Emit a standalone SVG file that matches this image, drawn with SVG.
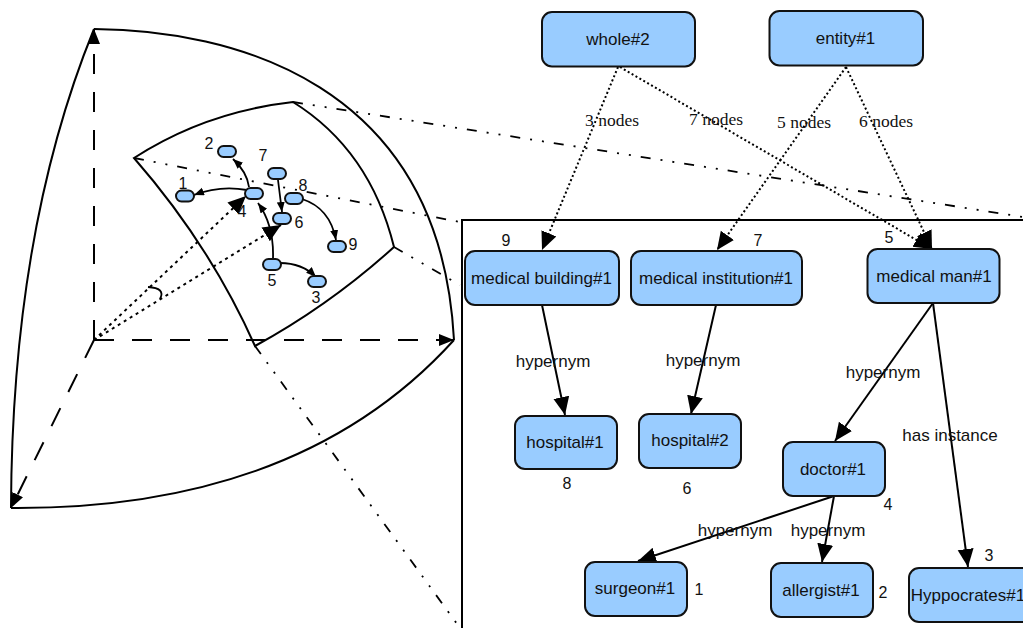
<svg xmlns="http://www.w3.org/2000/svg" width="1023" height="628" viewBox="0 0 1023 628">
<style>
text{font-family:"Liberation Sans",Arial,sans-serif;fill:#111;text-anchor:middle}
.n rect{fill:#99ccff;stroke:#111;stroke-width:2}
.n text{font-size:17px}
.s rect{fill:#99ccff;stroke:#111;stroke-width:2}
.num{font-size:16px}
.lab{font-size:17px}
.ser{font-family:"Liberation Serif","Times New Roman",serif;font-size:17.500px}
.sec{fill:none;stroke:#000;stroke-width:2}
.axis{fill:none;stroke:#000;stroke-width:2;stroke-dasharray:20 18}
.dd{fill:none;stroke:#000;stroke-width:1.800;stroke-dasharray:10 10 2 10 2 10}
.dot{fill:none;stroke:#000;stroke-width:2;stroke-dasharray:2 2.500}
.dotb{fill:none;stroke:#000;stroke-width:2;stroke-dasharray:3 4}
.sol{fill:none;stroke:#000;stroke-width:2}
.thin{fill:none;stroke:#000;stroke-width:1.800}
</style>
<defs>
<marker id="big" markerUnits="userSpaceOnUse" markerWidth="20" markerHeight="20" refX="18" refY="9" orient="auto"><path d="M0,1 L18,9 L0,17 Z" fill="#000"/></marker>
<marker id="mid" markerUnits="userSpaceOnUse" markerWidth="16" markerHeight="16" refX="15" refY="6" orient="auto"><path d="M0,0 L15,6 L0,12 Z" fill="#000"/></marker>
<marker id="small" markerUnits="userSpaceOnUse" markerWidth="12" markerHeight="12" refX="10" refY="4" orient="auto"><path d="M0,0 L10,4 L0,8 Z" fill="#000"/></marker>
</defs>
<g id="sphere">
<path class="sec" d="M94,29 C230,30 440,80 454,340"/>
<path class="sec" d="M94,29 Q12,230 11,508"/>
<path class="sec" d="M11,508 Q300,510 454,340"/>
<path class="sec" d="M134,158 Q205,112 293,102 Q370,150 394,247 Q330,305 255,346 Q210,245 134,158 Z"/>
<path class="dd" d="M293,102 L1023,217"/>
<path class="dd" d="M134,158 L460,222"/>
<path class="dd" d="M394,247 L460,285"/>
<path class="dd" d="M255,346 L460,628"/>
<path class="axis" d="M94,340 L94,29" marker-end="url(#mid)"/>
<path class="axis" d="M94,340 L454,340" marker-end="url(#mid)"/>
<path class="axis" d="M94,340 L11,508" marker-end="url(#mid)"/>
<path class="thin" d="M148,287 Q166,288 160,299"/>
</g>
<g id="inner-edges">
<path class="thin" d="M249,187 Q247,172 233,159" marker-end="url(#small)"/>
<path class="thin" d="M247,190 Q220,185 194,195" marker-end="url(#small)"/>
<path class="thin" d="M278,180 L282,212" marker-end="url(#small)"/>
<path class="thin" d="M273,258 Q274,225 258,203" marker-end="url(#small)"/>
<path class="thin" d="M280,263 Q302,263 316,277" marker-end="url(#small)"/>
<path class="thin" d="M302,199 Q330,208 336,240" marker-end="url(#small)"/>
</g>
<g id="inner-nodes" class="s">
<g id="p1"><rect x="176" y="190.500" width="18" height="11" rx="5.500"/></g>
<g id="p2"><rect x="218" y="146" width="18" height="11" rx="5.500"/></g>
<g id="p3"><rect x="308" y="276" width="18" height="11" rx="5.500"/></g>
<g id="p4"><rect x="245" y="188" width="18" height="11" rx="5.500"/></g>
<g id="p5"><rect x="263" y="259" width="18" height="11" rx="5.500"/></g>
<g id="p6"><rect x="273" y="213" width="18" height="11" rx="5.500"/></g>
<g id="p7"><rect x="268" y="168" width="18" height="11" rx="5.500"/></g>
<g id="p8"><rect x="285" y="193" width="18" height="11" rx="5.500"/></g>
<g id="p9"><rect x="328" y="241" width="18" height="11" rx="5.500"/></g>
</g>
<g id="view-rays">
<path class="dotb" d="M94,340 L246,196" marker-end="url(#big)"/>
<path class="dotb" d="M94,340 L281,225" marker-end="url(#big)"/>
</g>
<g id="inner-labels" class="num">
<text x="183" y="189">1</text><text x="209" y="149">2</text><text x="316" y="303">3</text>
<text x="242" y="217">4</text><text x="272" y="286">5</text><text x="299" y="228">6</text>
<text x="263" y="161">7</text><text x="303" y="191">8</text><text x="353" y="250">9</text>
</g>
<g id="connectors">
<path class="sol" d="M462,628 L462,220 L1023,220"/>
<path class="dot" d="M618,67 L542,250" marker-end="url(#big)"/>
<path class="dot" d="M620,67 L932,249" marker-end="url(#big)"/>
<path class="dot" d="M846,67 L717,250" marker-end="url(#big)"/>
<path class="dot" d="M846,67 L932,249" marker-end="url(#big)"/>
<path class="sol" d="M542,305 L565,415" marker-end="url(#big)"/>
<path class="sol" d="M716,305 L691,414" marker-end="url(#big)"/>
<path class="sol" d="M933,303 L835,441" marker-end="url(#big)"/>
<path class="sol" d="M933,303 L968,567" marker-end="url(#big)"/>
<path class="sol" d="M834,496 L638,561" marker-end="url(#big)"/>
<path class="sol" d="M834,496 L822,562" marker-end="url(#big)"/>
</g>
<g id="whole" class="n"><rect x="542" y="12" width="153" height="54.500" rx="10"/><text x="618" y="45">whole#2</text></g>
<g id="entity" class="n"><rect x="769.500" y="11" width="153.500" height="54.500" rx="10"/><text x="845.500" y="44">entity#1</text></g>
<g id="medical-building" class="n"><rect x="465" y="251" width="154" height="54" rx="10"/><text x="541.500" y="283.500">medical building#1</text></g>
<g id="medical-institution" class="n"><rect x="631" y="251" width="171" height="54" rx="10"/><text x="716" y="283.500">medical institution#1</text></g>
<g id="medical-man" class="n"><rect x="867.500" y="249" width="132" height="54" rx="10"/><text x="934" y="281.500">medical man#1</text></g>
<g id="hospital1" class="n"><rect x="515" y="416" width="102" height="53" rx="10"/><text x="565" y="448">hospital#1</text></g>
<g id="hospital2" class="n"><rect x="639" y="414" width="102" height="54" rx="10"/><text x="690" y="446">hospital#2</text></g>
<g id="doctor" class="n"><rect x="783" y="442" width="102" height="54" rx="10"/><text x="833" y="475">doctor#1</text></g>
<g id="surgeon" class="n"><rect x="585" y="562" width="102" height="54" rx="10"/><text x="635" y="594">surgeon#1</text></g>
<g id="allergist" class="n"><rect x="771" y="563" width="102" height="54" rx="10"/><text x="821" y="596">allergist#1</text></g>
<g id="hyppocrates" class="n"><rect x="909" y="568" width="130" height="54" rx="10"/><text x="968" y="601">Hyppocrates#1</text></g>
<g id="edge-labels">
<text class="ser" x="612" y="126">3 nodes</text><text class="ser" x="716" y="125">7 nodes</text>
<text class="ser" x="804" y="128">5 nodes</text><text class="ser" x="886" y="127">6 nodes</text>
<text class="lab" x="553" y="367">hypernym</text><text class="lab" x="703" y="366">hypernym</text>
<text class="lab" x="883" y="378">hypernym</text><text class="lab" x="950" y="441">has instance</text>
<text class="lab" x="735" y="536">hypernym</text><text class="lab" x="828" y="536">hypernym</text>
</g>
<g id="rank-labels" class="num">
<text x="506" y="246">9</text><text x="758" y="246">7</text><text x="889" y="243">5</text>
<text x="567" y="489">8</text><text x="687" y="494">6</text><text x="888" y="510">4</text>
<text x="989" y="561">3</text><text x="699" y="595">1</text><text x="883" y="598">2</text>
</g>
</svg>
